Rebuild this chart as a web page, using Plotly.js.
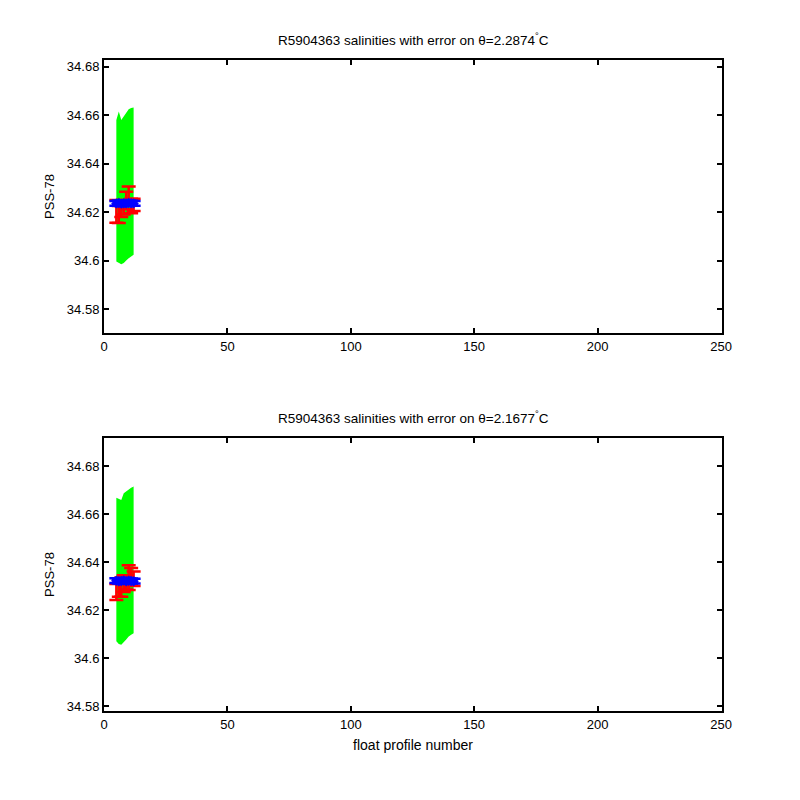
<!DOCTYPE html>
<html>
<head>
<meta charset="utf-8">
<script src="https://cdn.plot.ly/plotly-3.0.1.min.js"></script>
<style>html,body{margin:0;padding:0;background:#fff;}#chart{width:800px;height:800px;}</style>
</head>
<body>
<div id="chart"></div>
<script>
// Profile numbers
const profiles = [5, 6, 7, 8, 9, 10, 11, 12];

// Panel 1 (theta = 2.2874 C)
const mapUpper1 = [34.6580, 34.6615, 34.6580, 34.6595, 34.6610, 34.6625, 34.6630, 34.6632];
const mapLower1 = [34.5996, 34.5990, 34.5985, 34.5990, 34.6000, 34.6010, 34.6018, 34.6024];
const uncalSal1 = [34.6203, 34.6190, 34.6210, 34.6220, 34.6248, 34.6268, 34.6225, 34.6230];
const uncalErr1 = [0.0047, 0.0035, 0.0030, 0.0030, 0.0036, 0.0038, 0.0030, 0.0025];
const calSal1   = [34.6236, 34.6238, 34.6235, 34.6237, 34.6236, 34.6238, 34.6237, 34.6236];
const calErr1   = [0.0010, 0.0010, 0.0010, 0.0010, 0.0010, 0.0010, 0.0010, 0.0010];

// Panel 2 (theta = 2.1677 C)
const mapUpper2 = [34.6668, 34.6663, 34.6658, 34.6687, 34.6696, 34.6704, 34.6710, 34.6715];
const mapLower2 = [34.6070, 34.6058, 34.6055, 34.6065, 34.6077, 34.6090, 34.6097, 34.6103];
const uncalSal2 = [34.6275, 34.6290, 34.6295, 34.6310, 34.6315, 34.6335, 34.6340, 34.6330];
const uncalErr2 = [0.0033, 0.0035, 0.0040, 0.0035, 0.0030, 0.0052, 0.0035, 0.0030];
const calSal2   = [34.6322, 34.6320, 34.6321, 34.6323, 34.6320, 34.6322, 34.6321, 34.6320];
const calErr2   = [0.0010, 0.0010, 0.0010, 0.0010, 0.0010, 0.0010, 0.0010, 0.0010];

const titles = ["R5904363 salinities with error on θ=2.2874<sup>°</sup>C",
                "R5904363 salinities with error on θ=2.1677<sup>°</sup>C"];
const xTicks = [0, 50, 100, 150, 200, 250];
const yTicks = [34.58, 34.6, 34.62, 34.64, 34.66, 34.68];
const yTickText = ['34.58', '34.6', '34.62', '34.64', '34.66', '34.68'];

function band(xs, up, lo, xa, ya) {
  return {
    x: xs.concat(xs.slice().reverse()),
    y: up.concat(lo.slice().reverse()),
    type: 'scatter', mode: 'lines', fill: 'toself',
    fillcolor: '#00ff00', line: {width: 0, color: '#00ff00'},
    xaxis: xa, yaxis: ya, hoverinfo: 'skip', showlegend: false
  };
}
function errTrace(xs, ys, es, color, xa, ya, marker) {
  return {
    x: xs, y: ys, type: 'scatter', mode: 'markers',
    marker: marker,
    error_y: {type: 'data', array: es, visible: true, color: color, thickness: 2.5, width: 7},
    xaxis: xa, yaxis: ya, showlegend: false
  };
}

const data = [
  band(profiles, mapUpper1, mapLower1, 'x', 'y'),
  errTrace(profiles, uncalSal1, uncalErr1, '#ff0000', 'x', 'y', {size: 1, color: '#ff0000'}),
  errTrace(profiles, calSal1, calErr1, '#0000ff', 'x', 'y', {size: 8, symbol: 'diamond', color: '#0000ff'}),
  band(profiles, mapUpper2, mapLower2, 'x2', 'y2'),
  errTrace(profiles, uncalSal2, uncalErr2, '#ff0000', 'x2', 'y2', {size: 1, color: '#ff0000'}),
  errTrace(profiles, calSal2, calErr2, '#0000ff', 'x2', 'y2', {size: 8, symbol: 'diamond', color: '#0000ff'})
];

const FONT = 'Liberation Sans, Arial, sans-serif';
const axisCommon = {
  showline: true, mirror: 'ticks', linecolor: '#000', linewidth: 2,
  ticks: 'inside', ticklen: 5, tickwidth: 2, tickcolor: '#000',
  showgrid: false, zeroline: false,
  tickfont: {family: FONT, size: 13, color: '#000'}
};

const layout = {
  width: 800, height: 800,
  margin: {l: 104, r: 78, t: 60, b: 89},
  paper_bgcolor: '#fff', plot_bgcolor: '#fff',
  font: {family: FONT, size: 13, color: '#000'},
  xaxis: Object.assign({}, axisCommon, {domain: [0, 1], anchor: 'y', range: [0, 250.4], tickvals: xTicks}),
  yaxis: Object.assign({}, axisCommon, {domain: [0.5806, 1], anchor: 'x', range: [34.5701, 34.6828],
    tickvals: yTicks, ticktext: yTickText,
    title: {text: 'PSS-78', standoff: 9, font: {size: 13}}}),
  xaxis2: Object.assign({}, axisCommon, {domain: [0, 1], anchor: 'y2', range: [0, 250.4], tickvals: xTicks,
    title: {text: 'float profile number', standoff: 10, font: {size: 14}}}),
  yaxis2: Object.assign({}, axisCommon, {domain: [0, 0.4194], anchor: 'x2', range: [34.5779, 34.6917],
    tickvals: yTicks, ticktext: yTickText,
    title: {text: 'PSS-78', standoff: 9, font: {size: 13}}}),
  annotations: [
    {text: titles[0], xref: 'paper', yref: 'paper', x: 0.5, y: 1, yshift: 10, yanchor: 'bottom', showarrow: false, font: {size: 13.5}},
    {text: titles[1], xref: 'paper', yref: 'paper', x: 0.5, y: 0.4194, yshift: 10, yanchor: 'bottom', showarrow: false, font: {size: 13.5}}
  ]
};

Plotly.newPlot('chart', data, layout, {displayModeBar: false, staticPlot: true});
</script>
</body>
</html>
